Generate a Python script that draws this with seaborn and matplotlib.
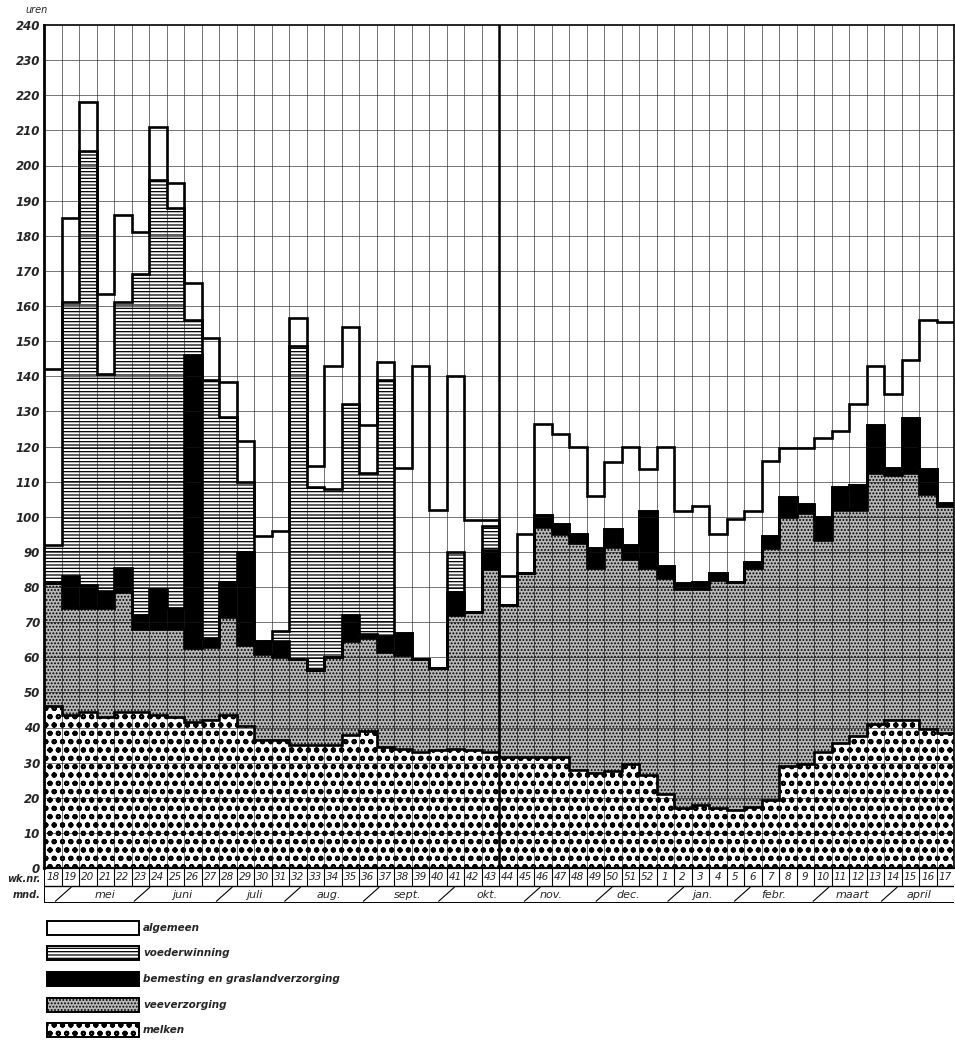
"""Arbeidsbehoefte per week (uren) op een melkveebedrijf, gestapeld per werksoort."""

import matplotlib

matplotlib.use("Agg")
import matplotlib.pyplot as plt
import numpy as np
import pandas as pd
import seaborn as sns
from matplotlib.patches import Rectangle

# week numbers, May through April
WEEKS = ["18", "19", "20", "21", "22", "23", "24", "25", "26", "27", "28", "29", "30",
         "31", "32", "33", "34", "35", "36", "37", "38", "39", "40", "41", "42", "43",
         "44", "45", "46", "47", "48", "49", "50", "51", "52", "1", "2", "3", "4", "5",
         "6", "7", "8", "9", "10", "11", "12", "13", "14", "15", "16", "17"]

# hours per week for each task
MELKEN = [46, 43.5, 44.5, 43, 44.5, 44.5, 43.5, 43, 41.5, 42, 43.5, 40.5, 36.5,
          36.5, 35, 35, 35, 38, 39, 34.5, 34, 33, 33.5, 34, 33.5, 33,
          31.5, 31.5, 31.5, 31.5, 28, 27, 27.5, 29.5, 26.5, 21, 17, 18, 17, 16.5,
          17.5, 19.5, 29, 29.5, 33, 35.5, 37.5, 41, 42, 42, 39.5, 38.5]
VEEVERZORGING = [35, 30.5, 29.5, 31, 34, 23.5, 24.5, 25, 21, 21, 28, 23, 24.5,
                 23.5, 24.5, 21.5, 25, 26.5, 26.5, 27, 26.5, 26.5, 23.5, 38, 39.5, 52,
                 43.5, 52.5, 65.5, 63.5, 64.5, 58.5, 64, 58.5, 59, 61.5, 62.5, 61.5, 65, 65,
                 68, 71.5, 71, 71.5, 60.5, 66.5, 64.5, 71.5, 70, 70.5, 67, 64.5]
BEMESTING = [0, 9, 6.5, 5, 7, 4, 11.5, 6, 83.5, 2.5, 10, 26.5, 3.5,
             4.5, 0, 0, 0, 7.5, 1, 4.5, 6.5, 0, 0, 6.5, 0, 5.5,
             0, 0, 3.5, 3, 2.5, 5.5, 5, 4, 16, 3.5, 1.5, 2, 2, 0,
             1.5, 3.5, 5.5, 2.5, 6.5, 6.5, 7, 13.5, 2, 15.5, 7, 1]
VOEDERWINNING = [11, 78, 123.5, 61.5, 75.5, 97, 116.5, 114, 10, 73.5, 47, 20, 0,
                 3, 89, 52, 48, 60, 46, 73, 0, 0, 0, 11.5, 0, 7,
                 0, 0, 0, 0, 0, 0, 0, 0, 0, 0, 0, 0, 0, 0,
                 0, 0, 0, 0, 0, 0, 0, 0, 0, 0, 0, 0]
ALGEMEEN = [50, 24, 14, 23, 25, 12, 15, 7, 10.5, 12, 10, 11.5, 30,
            28.5, 8, 6, 35, 22, 13.5, 5, 47, 83.5, 45, 50, 26, 1.5,
            8, 11, 26, 25.5, 25, 15, 19, 28, 12, 34, 20.5, 21.5, 11, 18,
            14.5, 21.5, 14, 16, 22.5, 16, 23, 17, 21, 16.5, 42.5, 51.5]

MONTHS = ["mei", "juni", "juli", "aug.", "sept.", "okt.", "nov.", "dec.",
          "jan.", "febr.", "maart", "april"]
MONTH_POS = [3.0, 7.4, 11.5, 15.8, 20.3, 24.8, 28.5, 32.9, 37.1, 41.2, 45.7, 49.5]
MONTH_SEP = [0.6, 5.1, 9.8, 13.7, 18.2, 22.5, 27.4, 31.5, 35.6, 39.4, 43.9, 47.8]

# (label, face colour, hatch, hatch line width), bottom to top
STYLES = [
    ("melken", "white", "oo", 1.4),
    ("veeverzorging", "#b8b8b8", ".....", 0.9),
    ("bemesting en graslandverzorging", "black", None, 0.9),
    ("voederwinning", "white", "-----", 0.9),
    ("algemeen", "white", None, 0.9),
]

FW, FH = 955, 1048
L, R, TOP, BOT = 44, 954, 25, 868


def frac_box(x0, y0, x1, y1):
    return [x0 / FW, 1 - y1 / FH, (x1 - x0) / FW, (y1 - y0) / FH]


def main() -> None:
    sns.set_style("white")
    plt.rcParams["font.family"] = ["DejaVu Sans"]
    plt.rcParams["hatch.color"] = "black"
    plt.rcParams["hatch.linewidth"] = 0.9

    df = pd.DataFrame({
        "week": WEEKS,
        "melken": MELKEN,
        "veeverzorging": VEEVERZORGING,
        "bemesting en graslandverzorging": BEMESTING,
        "voederwinning": VOEDERWINNING,
        "algemeen": ALGEMEEN,
    })
    names = [s[0] for s in STYLES]
    cum = df[names].cumsum(axis=1)
    for name in names:
        df["top_" + name] = cum[name]

    fig = plt.figure(figsize=(FW / 100, FH / 100), dpi=100)
    ax = fig.add_axes(frac_box(L, TOP, R, BOT))

    # draw from the top layer down so each lower layer covers the one above
    for z, (name, face, hatch, hlw) in enumerate(reversed(STYLES)):
        with plt.rc_context({"hatch.linewidth": hlw}):
            sns.barplot(data=df, x="week", y="top_" + name, order=WEEKS, color=face,
                        saturation=1, width=1.0, hatch=hatch, edgecolor="black",
                        linewidth=0, ax=ax, zorder=1 + z * 0.01)

    n = len(WEEKS)
    edges = np.arange(n + 1) - 0.5
    for y in range(10, 240, 10):
        ax.axhline(y, color="#1a1a1a", lw=0.6, alpha=0.7, zorder=3)
    for x in edges[1:-1]:
        ax.axvline(x, color="#1a1a1a", lw=0.6, alpha=0.7, zorder=3)
    ax.axvline(25.5, color="black", lw=1.8, zorder=4)

    for name in names:
        ax.stairs(df["top_" + name], edges, baseline=None, color="black", lw=1.9, zorder=5)

    ax.set_xlim(-0.5, n - 0.5)
    ax.set_ylim(0, 240)
    ax.set_xticks([])
    ax.set_xlabel("")
    ax.set_ylabel("")
    ax.set_yticks(range(0, 241, 10))
    ax.set_yticklabels([str(v) for v in range(0, 241, 10)], fontsize=8.5,
                       fontstyle="italic", fontweight="bold")
    ax.tick_params(axis="y", length=0, pad=3)
    for side, lw in (("left", 2.0), ("bottom", 1.6), ("top", 1.2), ("right", 1.2)):
        ax.spines[side].set_visible(True)
        ax.spines[side].set_color("black")
        ax.spines[side].set_linewidth(lw)

    fig.text(37 / FW, 1 - 10 / FH, "uren", fontsize=7, fontstyle="italic",
             ha="center", va="center")

    # week number and month rows
    row = fig.add_axes(frac_box(L, BOT, R, 903))
    row.set_xlim(-0.5, n - 0.5)
    row.set_ylim(0, 2)
    row.axis("off")
    row.axhline(2, color="black", lw=1.4)
    row.axhline(1, color="black", lw=1.0)
    row.axhline(0, color="black", lw=1.4)
    row.axvline(-0.5, color="black", lw=1.4)
    for x in edges[1:-1]:
        row.plot([x, x], [1, 2], color="black", lw=0.8)
    for i, w in enumerate(WEEKS):
        row.text(i, 1.47, w, ha="center", va="center", fontsize=7.5,
                 fontstyle="italic")
    for s in MONTH_SEP:
        row.plot([s - 0.45, s + 0.45], [0.1, 0.9], color="black", lw=0.8)
    for m, p in zip(MONTHS, MONTH_POS):
        row.text(p, 0.45, m, ha="center", va="center", fontsize=8,
                 fontstyle="italic")
    fig.text(41 / FW, 1 - 879 / FH, "wk.nr.", ha="right", va="center",
             fontsize=7, fontstyle="italic", fontweight="bold")
    fig.text(41 / FW, 1 - 895 / FH, "mnd.", ha="right", va="center",
             fontsize=7, fontstyle="italic", fontweight="bold")

    # legend drawn as sample boxes, top row = algemeen
    leg = fig.add_axes(frac_box(0, 908, FW, FH))
    leg.set_xlim(0, FW)
    leg.set_ylim(FH, 908)
    leg.axis("off")
    tops = [921, 946, 972, 998, 1023]
    for top, (name, face, hatch, hlw) in zip(tops, reversed(STYLES)):
        with plt.rc_context({"hatch.linewidth": hlw}):
            leg.add_patch(Rectangle((47, top), 92, 14, facecolor=face, hatch=hatch,
                                    edgecolor="black", lw=1.4))
        leg.text(143, top + 7, name, ha="left", va="center", fontsize=7.5,
                 fontstyle="italic", fontweight="bold")

    fig.savefig("out.png", dpi=100)
    plt.close(fig)


if __name__ == "__main__":
    main()
